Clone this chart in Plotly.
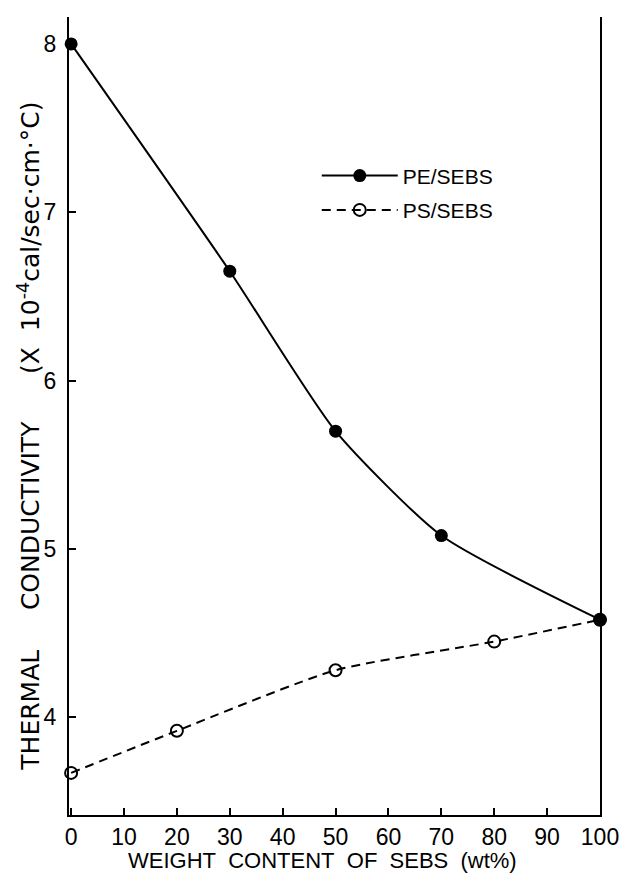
import plotly.graph_objects as go

# Data
pe_x = [0, 30, 50, 70, 100]
pe_y = [8.00, 6.65, 5.70, 5.08, 4.58]
ps_x = [0, 20, 50, 80, 100]
ps_y = [3.67, 3.92, 4.28, 4.45, 4.58]
x_ticks = [0, 10, 20, 30, 40, 50, 60, 70, 80, 90, 100]
y_ticks = [4, 5, 6, 7, 8]

FONT = "Liberation Sans"
NB = "\u00a0"

fig = go.Figure()
fig.add_trace(go.Scatter(
    x=pe_x, y=pe_y, name="PE/SEBS", mode="lines+markers", legendgroup="pe",
    line=dict(color="black", width=2, shape="spline", smoothing=0.6),
    marker=dict(symbol="circle", size=13, color="black"),
    cliponaxis=False,
))
fig.add_trace(go.Scatter(
    x=ps_x, y=ps_y, name="PS/SEBS", mode="lines+markers", legendgroup="ps",
    line=dict(color="black", width=2, dash="9px,6px", shape="spline", smoothing=0.6),
    marker=dict(symbol="circle-open", size=12, color="black", line=dict(width=2)),
    cliponaxis=False,
))

ytitle = ("THERMAL" + NB * 5 + "CONDUCTIVITY" + NB * 6 +
          "(X" + NB * 2 + "10<sup>-4</sup>cal/sec·cm·°C)")
xtitle = "WEIGHT" + NB * 2 + "CONTENT" + NB * 2 + "OF" + NB * 2 + "SEBS" + NB * 2 + "(wt%)"

fig.update_layout(
    width=620, height=876,
    margin=dict(l=69, r=20, t=17, b=61),
    paper_bgcolor="white", plot_bgcolor="white",
    font=dict(family=FONT, size=21, color="black"),
    showlegend=True,
    legend=dict(x=0.4666, y=0.8265, xanchor="left", yanchor="top",
                bgcolor="rgba(0,0,0,0)", font=dict(size=21, family=FONT),
                itemwidth=76, tracegroupgap=4),
    xaxis=dict(
        range=[-0.4, 100], tickvals=x_ticks, ticktext=[str(v) for v in x_ticks],
        ticks="inside", ticklen=7, tickwidth=2, tickcolor="black",
        showline=True, linecolor="black", linewidth=2, showgrid=False, zeroline=False,
        tickfont=dict(size=23, family=FONT), ticklabelstandoff=0, automargin=False,
    ),
    yaxis=dict(
        range=[3.42, 8.16], tickvals=y_ticks, ticktext=[str(v) for v in y_ticks],
        ticks="inside", ticklen=7, tickwidth=2, tickcolor="black",
        showline=True, linecolor="black", linewidth=2, mirror=True,
        showgrid=False, zeroline=False, automargin=False,
        tickfont=dict(size=23, family=FONT), ticklabelstandoff=6,
    ),
    annotations=[
        dict(text=ytitle, textangle=-90, showarrow=False,
             xref="paper", yref="paper", x=-0.074, y=0.475,
             xanchor="center", yanchor="middle",
             font=dict(size=25, family="DejaVu Sans", color="black")),
        dict(text=xtitle, showarrow=False,
             xref="paper", yref="paper", x=0.4765, y=-0.0576,
             xanchor="center", yanchor="middle",
             font=dict(size=22, family=FONT, color="black")),
    ],
)

fig.write_html("out.html")
